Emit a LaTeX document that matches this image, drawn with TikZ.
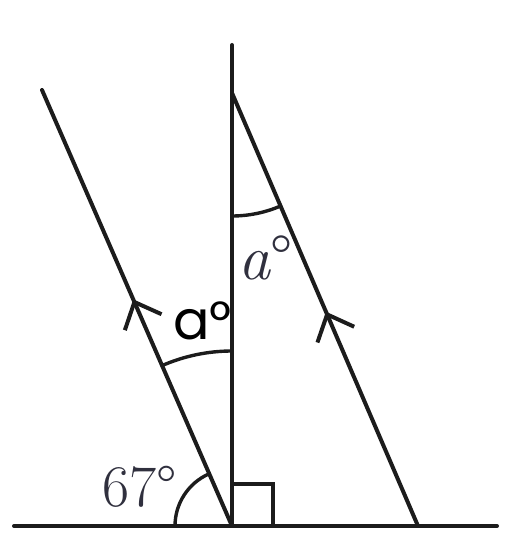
\documentclass[tikz,border=0pt]{standalone}
\usepackage{fontspec}
\newfontfamily\geofont{Poppins}
\usetikzlibrary{arrows.meta,decorations.markings}
\definecolor{labelgray}{RGB}{48,48,62}
\definecolor{inkk}{RGB}{28,28,28}

\begin{document}
\begin{tikzpicture}[x=1pt,y=1pt,
line width=4pt,
line cap=round,
linee/.style={draw=inkk},
arcc/.style={draw=inkk, line width=3.4pt},
parall/.style={linee, postaction={decorate, decoration={markings,
  mark=at position #1 with {\arrow{Straight Barb[length=22pt,width=40pt]}}}}},
degg/.style={inner sep=0pt, anchor=base west},
]
  \useasboundingbox (0,0) rectangle (505,539);
  \coordinate (baseL) at (14,13);
  \coordinate (baseR) at (497,13);
  \coordinate (O) at (232,13);   % foot of the vertical
  \coordinate (vtop) at (232,494);
  \coordinate (ltop) at (42,449);
  \coordinate (rfoot) at (418,13);
  \coordinate (rtop) at (232,446);

  \draw[linee] (baseL) -- (baseR);
  \draw[linee] (O) -- (vtop);
  \draw[parall=0.52] (O) -- (ltop);
  \draw[parall=0.495] (rfoot) -- (rtop);

  \draw[arcc, line cap=butt] (O) rectangle ++(41,42);
  \draw[arcc] (O) ++(180:57) arc[start angle=180, end angle=113.6, radius=57];
  \draw[arcc] (O) ++(90:175) arc[start angle=90, end angle=113.6, radius=175];
  \draw[arcc] (rtop) ++(270:123) arc[start angle=270, end angle=293.3, radius=123];

  \node (deg67) [degg, text=labelgray] at (100,32) {\fontsize{59}{62}\selectfont 67°};
  \node (angA) [degg, text=labelgray] at (236,259) {\fontsize{64}{68}\selectfont\itshape a\upshape°};
  \node (angB) [degg, text=black] at (171,199) {\geofont\fontsize{54}{58}\selectfont a°};
\end{tikzpicture}
\end{document}
